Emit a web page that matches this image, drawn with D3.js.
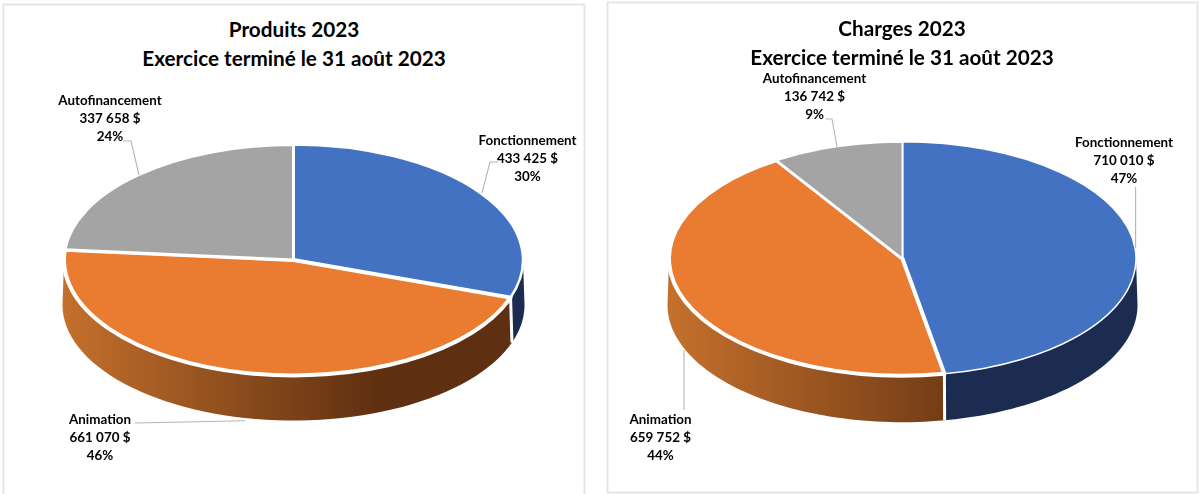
<!DOCTYPE html>
<html><head><meta charset="utf-8">
<script src="https://cdn.jsdelivr.net/npm/d3@7/dist/d3.min.js"></script>
<style>html,body{margin:0;padding:0;background:#fff}svg{display:block;filter:blur(0.45px)}text{font-family:Lato,sans-serif;font-weight:700;fill:#000}</style>
</head><body><svg id="c" width="1200" height="494"></svg>
<script>
const categories = ["Fonctionnement","Animation","Autofinancement"];
const produitsValues = [433425,661070,337658];
const chargesValues = [710010,659752,136742];
const produitsPercents = ["30%","46%","24%"];
const chargesPercents = ["47%","44%","9%"];
const topColors = ["#4472C2","#E97C31","#A4A4A4"];
const titleLine2 = "Exercice terminé le 31 août 2023";
const fmt = v => d3.format(",")(v).replace(",", " ") + " $";

const svg = d3.select("#c");
const defs = svg.append("defs");

function drawPie(cfg){
  const g = svg.append("g");
  g.append("rect").attr("x",cfg.panel[0]).attr("y",cfg.panel[1])
    .attr("width",cfg.panel[2]).attr("height",cfg.panel[3])
    .attr("fill","#fff").attr("stroke","#e6e6e6").attr("stroke-width",2);
  g.selectAll(".ttl").data([cfg.title,titleLine2]).join("text")
    .attr("x",cfg.titleX).attr("y",(d,i)=>cfg.titleY+i*28.5)
    .attr("text-anchor","middle").attr("font-size",20.7).text(d=>d);

  const pie = d3.pie().sort(null).value(d=>d);
  const arcs = pie(cfg.values);
  const {cx,cy,rx,ry,depth} = cfg;
  const sx = d3.scaleLinear().domain([-1,1]).range([cx-rx,cx+rx]);
  const sy = d3.scaleLinear().domain([-1,1]).range([cy-ry,cy+ry]);
  const bx = d3.scaleLinear().domain([-1,1]).range([cx-rx-1.5,cx+rx+1.5]);
  const by = d3.scaleLinear().domain([-1,1]).range([cy-ry+depth,cy+ry+depth]);

  const gid = cfg.id+"or";
  const gr = defs.append("linearGradient").attr("id",gid).attr("gradientUnits","userSpaceOnUse")
    .attr("x1",cfg.grad[0]).attr("x2",cfg.grad[1]).attr("y1",0).attr("y2",0);
  gr.append("stop").attr("offset",0).attr("stop-color","#C4702C");
  gr.append("stop").attr("offset",1).attr("stop-color","#5E2F10");
  const sideFill = [ "#1B2C50", `url(#${gid})`, "#6E6E6E" ];

  const wall = arcs.map((a,i)=>{
    const s=Math.max(a.startAngle,Math.PI/2), e=Math.min(a.endAngle,3*Math.PI/2);
    return {i,s,e};
  }).filter(w=>w.e>w.s);
  const line = d3.line();
  g.selectAll(".wall").data(wall).join("path")
    .attr("d",w=>{
      const n=d3.range(0,61).map(k=>w.s+(w.e-w.s)*k/60);
      const top=n.map(t=>[sx(Math.sin(t)),sy(-Math.cos(t))]);
      const bot=n.slice().reverse().map(t=>[bx(Math.sin(t)),by(-Math.cos(t))]);
      return line(top.concat(bot))+"Z";
    })
    .attr("fill",w=>sideFill[w.i]);
  wall.slice(1).forEach(w=>{
    g.append("line").attr("x1",sx(Math.sin(w.s))).attr("y1",sy(-Math.cos(w.s)))
     .attr("x2",bx(Math.sin(w.s))).attr("y2",by(-Math.cos(w.s)))
     .attr("stroke","#fff").attr("stroke-width",3);
  });

  const arc = d3.arc().innerRadius(0).outerRadius(rx);
  const face = g.append("g").attr("transform",`translate(${cx},${cy}) scale(1,${ry/rx})`);
  face.selectAll("path").data(arcs).join("path")
    .attr("d",arc).attr("fill",(d,i)=>topColors[i])
    .attr("stroke","#fff").attr("stroke-width",(d,i)=>cfg.strokes[i])
    .attr("stroke-linejoin","round")
    .attr("vector-effect","non-scaling-stroke");

  cfg.leaders.forEach(pts=>{
    g.append("path").attr("d",line(pts)).attr("fill","none")
     .attr("stroke","#b5b5b5").attr("stroke-width",1.1);
  });

  categories.forEach((c,i)=>{
    const t = g.append("text").attr("text-anchor","middle").attr("font-size",13.4);
    [c,fmt(cfg.values[i]),cfg.percents[i]].forEach((s,k)=>{
      t.append("tspan").attr("x",cfg.labels[i][0]).attr("y",cfg.labels[i][1]+k*18).text(s);
    });
  });
}

drawPie({id:"p",panel:[3.5,4.5,581,492],title:"Produits 2023",titleX:294,titleY:37,
  values:produitsValues,percents:produitsPercents,cx:293.5,cy:260,rx:229.5,ry:115.5,depth:45,
  grad:[64,380],strokes:[2.5,4,3],
  labels:[[527.5,145],[100,423.5],[110,105]],
  leaders:[[[482,193],[490,162],[498,162]],[[135,423],[245,420.7]],[[123,141],[131,141],[139,175]]]
});
drawPie({id:"c",panel:[607.5,2.5,590,490],title:"Charges 2023",titleX:902,titleY:36,
  values:chargesValues,percents:chargesPercents,cx:902.5,cy:258.7,rx:233.5,ry:117,depth:46.5,
  grad:[669,1020],strokes:[1.5,4,2],
  labels:[[1124,146.5],[660.5,424],[814.5,83]],
  leaders:[[[1135.6,248],[1135.6,187]],[[684,350],[684,410]],[[826,119],[832,119],[837,147]]]
});
</script></body></html>
